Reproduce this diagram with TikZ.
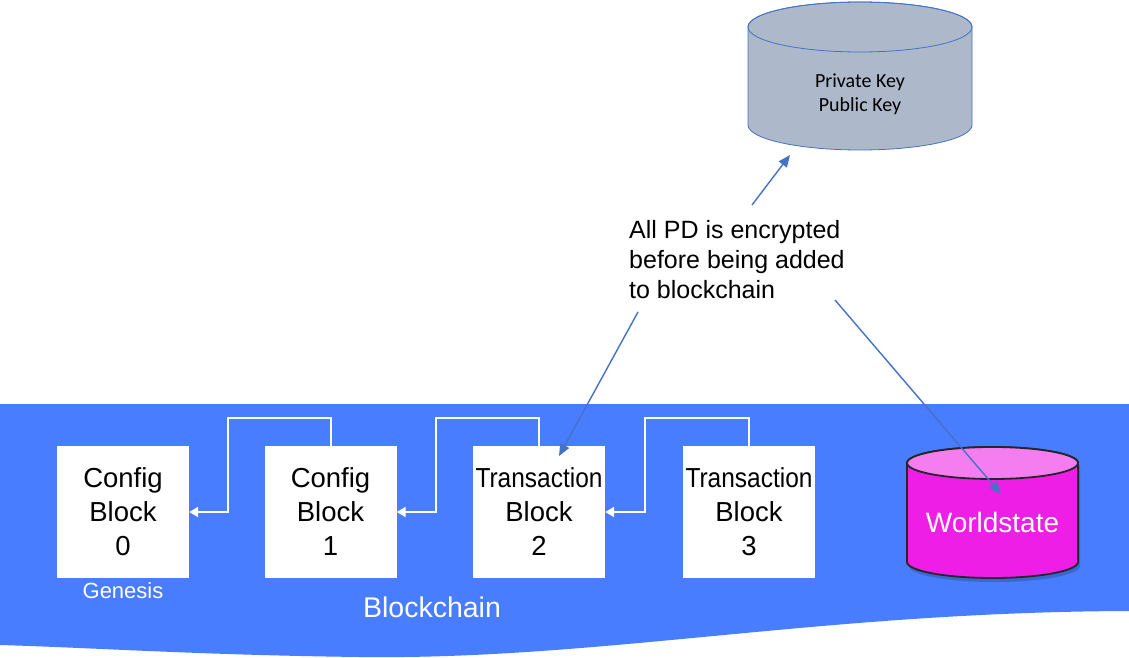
\documentclass[tikz,border=0pt]{standalone}
\usepackage{fontspec}
\setmainfont{Liberation Sans}
\newfontfamily\calib{Carlito}
\usetikzlibrary{arrows.meta,calc}
\definecolor{band}{RGB}{72,125,255}
\definecolor{arr}{RGB}{68,114,196}
\definecolor{keyfill}{RGB}{173,185,202}
\definecolor{wsbody}{RGB}{238,30,230}
\definecolor{wstop}{RGB}{244,126,240}
\definecolor{wsline}{RGB}{38,38,38}
\begin{document}
\begin{tikzpicture}[x=1pt,y=-1pt,
 blk/.style={fill=white,minimum width=132pt,minimum height=132pt,inner sep=0pt,align=center,font=\fontsize{27.5}{34}\selectfont},
 conn/.style={draw=white,line width=2pt,-{Triangle[length=9pt,width=10pt]}},
 pdarrow/.style={draw=arr,line width=1.4pt,-{Triangle[length=12pt,width=10pt]}},
 lbl/.style={text=white,inner sep=0pt}]
\useasboundingbox (0,0) rectangle (1129,658);
\fill[white] (0,0) rectangle (1129,658);
% band
\fill[band] (0,404) -- (1129,404) -- (1129,611) .. controls (820,612) and (600,660) .. (360,657) .. controls (200,655) and (100,648) .. (0,645) -- cycle;
% blocks
\node[blk] (b0) at (123,512) {Config\\Block\\0};
\node[blk] (b1) at (330.5,512) {Config\\Block\\1};
\node[blk] (b2) at (539,512) {\scalebox{0.89}[1]{Transaction}\\Block\\2};
\node[blk] (b3) at (749,512) {\scalebox{0.89}[1]{Transaction}\\Block\\3};
% chain connectors
\draw[conn] (b1.north) -- ++(0,-28) -| ([xshift=39pt]b0.east) -- (b0.east);
\draw[conn] (b2.north) -- ++(0,-28) -| ([xshift=39pt]b1.east) -- (b1.east);
\draw[conn] (b3.north) -- ++(0,-28) -| ([xshift=40pt]b2.east) -- (b2.east);
% labels
\node[lbl,font=\fontsize{22}{26}\selectfont] (gen) at (123,591) {Genesis};
\node[lbl,font=\fontsize{28.5}{32}\selectfont] (bc) at (432,607) {Blockchain};
% key store
\filldraw[fill=keyfill,draw=arr,line width=0.8pt] (748,27) -- (748,125) arc[start angle=180,end angle=360,x radius=112pt,y radius=25pt] -- (972,27) arc[start angle=0,end angle=180,x radius=112pt,y radius=25pt] -- cycle;
\draw[arr,line width=0.8pt] (860,27) ellipse[x radius=112pt,y radius=25pt];
\node[font=\calib\fontsize{20}{24}\selectfont,align=center] (keys) at (860,94) {Private Key\\Public Key};
% worldstate
\begin{scope}[shift={(2,4)}]
\fill[black,opacity=0.18] (907,463) -- (907,562) arc[start angle=180,end angle=360,x radius=85.5pt,y radius=16pt] -- (1078,463) arc[start angle=0,end angle=180,x radius=85.5pt,y radius=16pt] -- cycle;
\end{scope}
\filldraw[fill=wsbody,draw=wsline,line width=1.8pt] (907,463) -- (907,562) arc[start angle=180,end angle=360,x radius=85.5pt,y radius=16pt] -- (1078,463) arc[start angle=0,end angle=180,x radius=85.5pt,y radius=16pt] -- cycle;
\filldraw[fill=wstop,draw=wsline,line width=1.8pt] (992.5,463) ellipse[x radius=85.5pt,y radius=16pt];
\node[text=white,font=\fontsize{28}{32}\selectfont] (ws) at (992.5,522) {Worldstate};
% note
\node[anchor=west,align=left,inner sep=0pt,font=\fontsize{25}{30}\selectfont] (pd) at (629,260) {All PD is encrypted\\before being added\\to blockchain};
% arrows
\coordinate (a1s) at (752,205); \coordinate (a1e) at (790,155);
\coordinate (a2s) at (638,312); \coordinate (a2e) at (559,456);
\coordinate (a3s) at (835,300); \coordinate (a3e) at (1001,494);
\draw[pdarrow] (a1s) -- (a1e);
\draw[pdarrow] (a2s) -- (a2e);
\draw[pdarrow] (a3s) -- (a3e);
\end{tikzpicture}
\end{document}
